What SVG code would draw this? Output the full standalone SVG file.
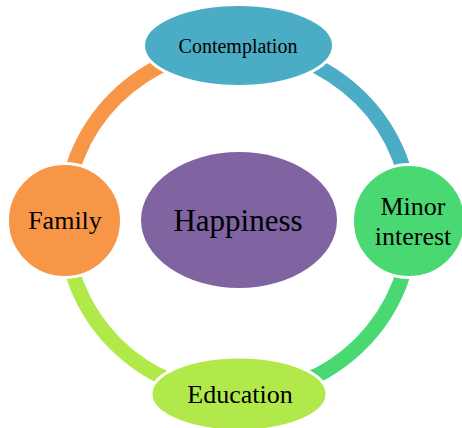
<svg xmlns="http://www.w3.org/2000/svg" width="462" height="428" viewBox="0 0 462 428">
<style>
.arc{fill:none;stroke-width:15;stroke-linecap:butt}
.node{stroke:#fff;stroke-width:3}
text{font-family:"Liberation Serif","Times New Roman",serif;fill:#000;text-anchor:middle}
</style>
<rect width="462" height="428" fill="#fff"/>
<g id="connectors">
<path class="arc" stroke="#4bacc6" d="M238,47.5 A173.5,173.5 0 0 1 411.5,221"/>
<path class="arc" stroke="#4ad873" d="M411.5,221 A173.5,173.5 0 0 1 238,394.5"/>
<path class="arc" stroke="#b1e84a" d="M238,394.5 A173.5,173.5 0 0 1 64.5,221"/>
<path class="arc" stroke="#f79646" d="M64.5,221 A173.5,173.5 0 0 1 238,47.5"/>
</g>
<g id="happiness">
<ellipse cx="239" cy="220" rx="98" ry="68" fill="#8064a2"/>
<text x="238" y="231" font-size="31">Happiness</text>
</g>
<g id="contemplation">
<ellipse class="node" cx="238.5" cy="45.5" rx="95" ry="41" fill="#4bacc6"/>
<text x="238" y="53" font-size="20">Contemplation</text>
</g>
<g id="minor-interest">
<circle class="node" cx="409" cy="221" r="56.5" fill="#4ad873"/>
<text x="413" y="215" font-size="26">Minor</text>
<text x="413" y="245" font-size="26">interest</text>
</g>
<g id="education">
<ellipse class="node" cx="239" cy="394" rx="88" ry="37" fill="#b1e84a"/>
<text x="240" y="403" font-size="26">Education</text>
</g>
<g id="family">
<circle class="node" cx="64.5" cy="220.5" r="57" fill="#f79646"/>
<text x="65" y="229" font-size="26">Family</text>
</g>
</svg>
